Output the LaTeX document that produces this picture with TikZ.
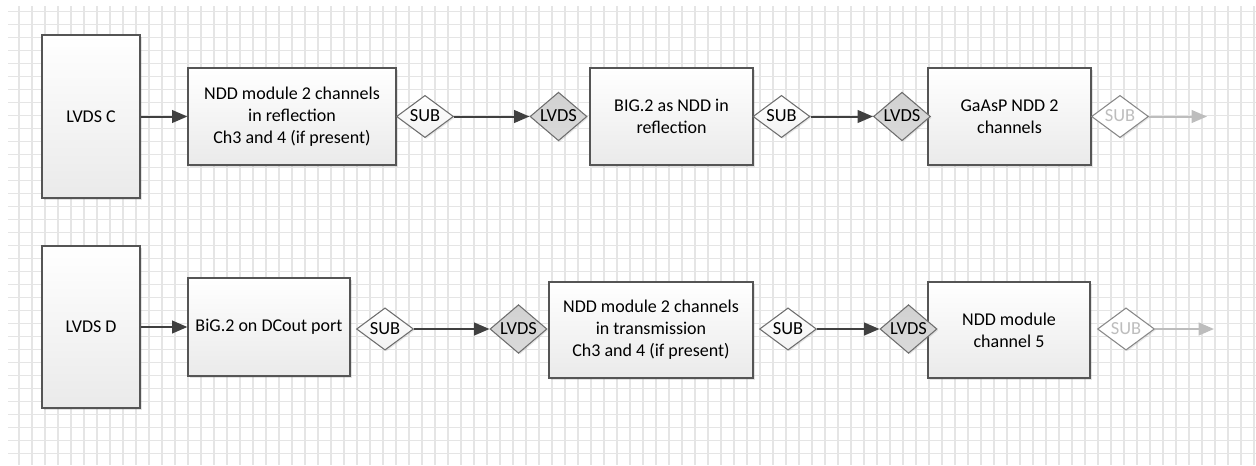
\documentclass[tikz,border=0pt]{standalone}
\usepackage{fontspec}
\setmainfont{Carlito}
\usetikzlibrary{arrows.meta, positioning, calc, shapes.geometric, shadows}
\definecolor{lvdsGrid}{HTML}{E5E5E5}
\definecolor{lvdsLine}{HTML}{404040}
\definecolor{lvdsEdge}{HTML}{555555}
\definecolor{lvdsFill}{HTML}{EAEAEA}
\definecolor{lvdsDia}{HTML}{C6C6C6}
\definecolor{lvdsFaint}{HTML}{BDBDBD}

\tikzset{
  modbox/.style={draw=lvdsEdge, line width=0.9pt, top color=white, bottom color=lvdsFill,
    align=center, inner sep=2pt, font=\fontsize{13.5}{16.5}\selectfont,
    drop shadow={shadow xshift=1.3pt, shadow yshift=-1.3pt, opacity=0.22}},
  tagdia/.style={diamond, draw=lvdsEdge!85, line width=0.8pt, inner sep=0pt,
    minimum width=42.75pt, minimum height=25.5pt, text height=8.5pt, text depth=0.5pt,
    font=\fontsize{13.8}{16.5}\selectfont,
    drop shadow={shadow xshift=1pt, shadow yshift=-1pt, opacity=0.18}},
  subdia/.style={tagdia, top color=white, bottom color=lvdsFill!60},
  lvdsdia/.style={tagdia, top color=lvdsDia!80, bottom color=lvdsDia!110!black},
  fadedia/.style={tagdia, fill=white, text=lvdsFaint, draw=lvdsEdge!70},
  link/.style={draw=lvdsLine, line width=1.5pt, -{Triangle[length=11.5pt,width=9.5pt]}},
  fadelink/.style={link, draw=lvdsFaint}
}

\begin{document}
\begin{tikzpicture}[x=0.75pt,y=-0.75pt]
\useasboundingbox (0,0) rectangle (1256,465);
\foreach \gx in {0,...,95} {
  \draw[lvdsGrid,line width=0.8pt] ({19+13*\gx},6) -- ({19+13*\gx},465);
}
\foreach \gy in {0,...,34} {
  \draw[lvdsGrid,line width=0.8pt] (8,{11.5+13*\gy}) -- (1256,{11.5+13*\gy});
}

\node[modbox, minimum width=73.5pt, minimum height=122.25pt] (lvdsC) at (91,116.5) {LVDS C};
\node[modbox, minimum width=156pt, minimum height=72.75pt] (nddRefl) at (292,116.5)
  {NDD module 2 channels\\in reflection\\Ch3 and 4 (if present)};
\node[modbox, minimum width=122.25pt, minimum height=72.75pt] (bigRefl) at (671.5,116.5)
  {BIG.2 as NDD in\\reflection};
\node[modbox, minimum width=122.25pt, minimum height=72.75pt] (gaasp) at (1009.5,116.5)
  {GaAsP NDD 2\\channels};

\node[subdia] (subA) at (425,116.5) {SUB};
\node[lvdsdia] (lvdsA) at (558.5,116.5) {LVDS};
\node[subdia] (subB) at (781.5,116.5) {SUB};
\node[lvdsdia] (lvdsB) at (902,116.5) {LVDS};
\node[fadedia] (subC) at (1120,116.5) {SUB};
\coordinate (endC) at (1207,116.5);

\draw[link] (lvdsC) -- (nddRefl);
\draw[link] (subA) -- (lvdsA);
\draw[link] (subB) -- (lvdsB);
\draw[fadelink] (subC) -- (endC);

\node[modbox, minimum width=73.5pt, minimum height=121.5pt] (lvdsD) at (91,327) {LVDS D};
\node[modbox, minimum width=121.5pt, minimum height=73.5pt] (bigDC) at (269,327) {BiG.2 on DCout port};
\node[modbox, minimum width=153pt, minimum height=72pt] (nddTrans) at (651,330)
  {NDD module 2 channels\\in transmission\\Ch3 and 4 (if present)};
\node[modbox, minimum width=121.5pt, minimum height=72pt] (nddCh) at (1009,330)
  {NDD module\\channel 5};

\node[subdia] (subD) at (385,329) {SUB};
\node[lvdsdia] (lvdsE) at (518.5,329) {LVDS};
\node[subdia] (subE) at (788,329) {SUB};
\node[lvdsdia] (lvdsF) at (908.5,329) {LVDS};
\node[fadedia] (subF) at (1126,329) {SUB};
\coordinate (endD) at (1214,329);

\draw[link] (lvdsD) -- (bigDC);
\draw[link] (subD) -- (lvdsE);
\draw[link] (subE) -- (lvdsF);
\draw[fadelink] (subF) -- (endD);
\end{tikzpicture}
\end{document}
